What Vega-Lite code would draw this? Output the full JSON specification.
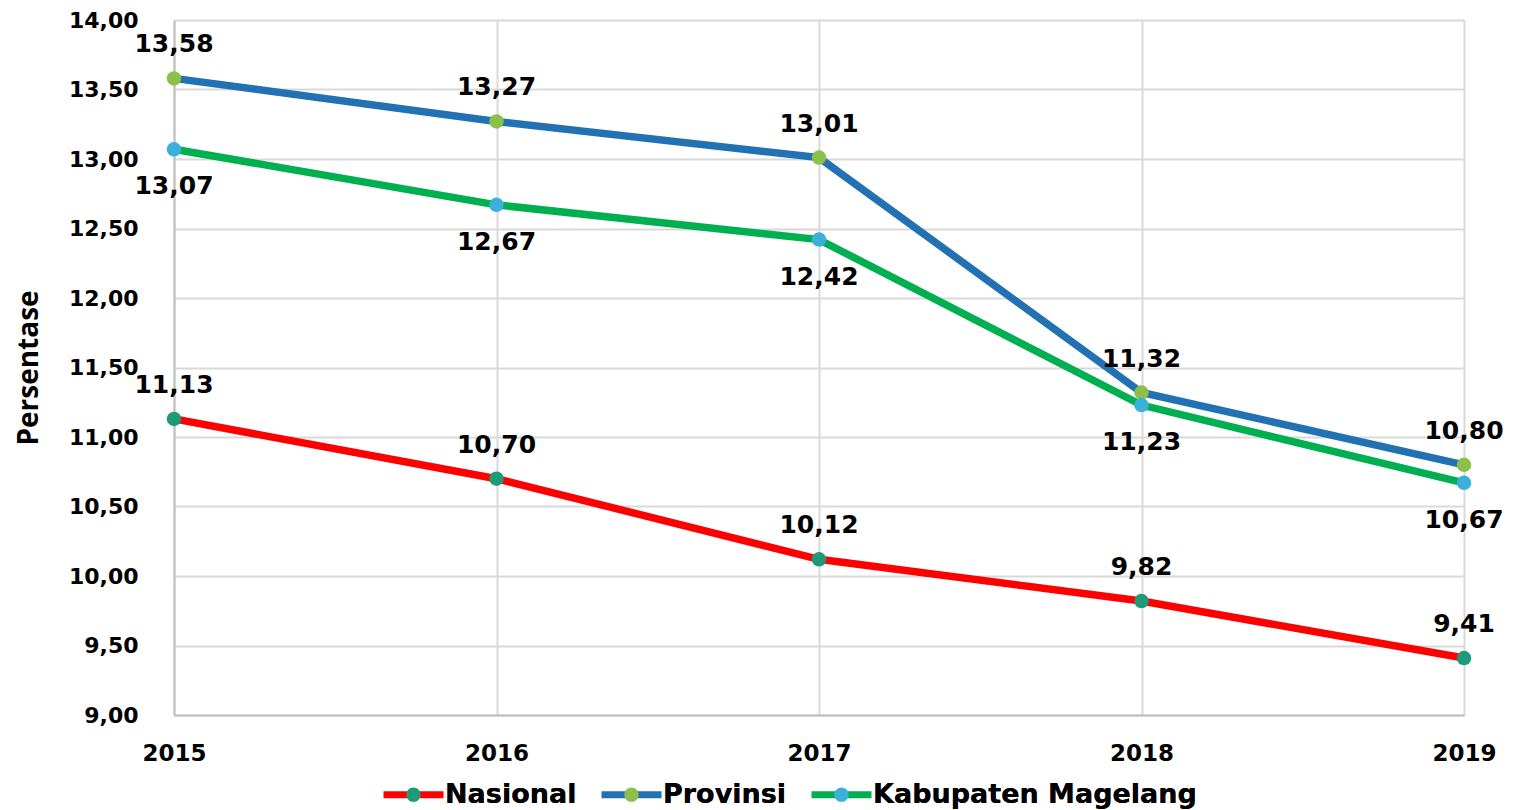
{
  "$schema": "https://vega.github.io/schema/vega-lite/v6.json",
  "autosize": {"type": "none"},
  "width": 1290,
  "height": 695,
  "padding": {"left": 174, "top": 20, "right": 67, "bottom": 95},
  "background": "white",
  "data": {
    "values": [
      {"year": 2015, "series": "Nasional", "value": 11.13},
      {"year": 2016, "series": "Nasional", "value": 10.70},
      {"year": 2017, "series": "Nasional", "value": 10.12},
      {"year": 2018, "series": "Nasional", "value": 9.82},
      {"year": 2019, "series": "Nasional", "value": 9.41},
      {"year": 2015, "series": "Provinsi", "value": 13.58},
      {"year": 2016, "series": "Provinsi", "value": 13.27},
      {"year": 2017, "series": "Provinsi", "value": 13.01},
      {"year": 2018, "series": "Provinsi", "value": 11.32},
      {"year": 2019, "series": "Provinsi", "value": 10.80},
      {"year": 2015, "series": "Kabupaten Magelang", "value": 13.07},
      {"year": 2016, "series": "Kabupaten Magelang", "value": 12.67},
      {"year": 2017, "series": "Kabupaten Magelang", "value": 12.42},
      {"year": 2018, "series": "Kabupaten Magelang", "value": 11.23},
      {"year": 2019, "series": "Kabupaten Magelang", "value": 10.67}
    ]
  },
  "transform": [
    {"calculate": "replace(format(datum.value, '.2f'), '.', ',')", "as": "label"}
  ],
  "encoding": {
    "x": {
      "field": "year", "type": "quantitative",
      "scale": {"domain": [2015, 2019], "nice": false, "zero": false},
      "axis": {
        "values": [2015, 2016, 2017, 2018, 2019], "format": "d", "title": null,
        "grid": true, "gridColor": "#D9D9D9", "gridWidth": 2,
        "domainColor": "#BFBFBF", "domainWidth": 2,
        "ticks": false, "tickSize": 0, "labelPadding": 27,
        "labelFont": "DejaVu Sans", "labelFontWeight": "bold", "labelFontSize": 23,
        "labelColor": "#000000", "labelFlush": false
      }
    },
    "y": {
      "field": "value", "type": "quantitative",
      "scale": {"domain": [9, 14], "nice": false, "zero": false},
      "axis": {
        "values": [9, 9.5, 10, 10.5, 11, 11.5, 12, 12.5, 13, 13.5, 14],
        "labelExpr": "replace(format(datum.value, '.2f'), '.', ',')",
        "title": "Persentase", "titleFont": "Open Sans", "titleFontWeight": "bold",
        "titleFontSize": 28, "titleColor": "#000000", "titlePadding": 25,
        "grid": true, "gridColor": "#D9D9D9", "gridWidth": 2,
        "domainColor": "#BFBFBF", "domainWidth": 2,
        "ticks": false, "tickSize": 0, "labelPadding": 36,
        "labelFont": "DejaVu Sans", "labelFontWeight": "bold", "labelFontSize": 22,
        "labelColor": "#000000", "labelFlush": false
      }
    }
  },
  "layer": [
    {
      "mark": {"type": "line", "strokeWidth": 7.5},
      "encoding": {
        "stroke": {
          "field": "series", "type": "nominal",
          "scale": {"domain": ["Nasional", "Provinsi", "Kabupaten Magelang"], "range": ["#FF0000", "#2271B3", "#00B050"]},
          "legend": {
            "title": null, "orient": "none", "direction": "horizontal",
            "legendX": 206, "legendY": 741, "padding": 0,
            "symbolType": "stroke", "symbolSize": 3600, "symbolStrokeWidth": 7,
            "symbolFillColor": "transparent",
            "labelFont": "DejaVu Sans", "labelFontWeight": "bold", "labelFontSize": 27,
            "labelColor": "#000000", "labelOffset": -2, "columnPadding": 10,
            "labelLimit": 1000
          }
        }
      }
    },
    {
      "mark": {"type": "point", "filled": true, "size": 210, "opacity": 1, "shape": "circle"},
      "encoding": {
        "fill": {
          "field": "series", "type": "nominal",
          "sort": ["Nasional", "Provinsi", "Kabupaten Magelang"],
          "scale": {"range": ["#1F9A78", "#8DC04A", "#3BB0D8"]},
          "legend": {
            "title": null, "orient": "none", "direction": "horizontal",
            "legendX": 206, "legendY": 741, "padding": 0,
            "symbolType": "M-1,0L1,0M-0.24,0A0.24,0.24,0,1,0,0.24,0A0.24,0.24,0,1,0,-0.24,0Z",
            "symbolSize": 3600, "symbolStrokeWidth": 7, "symbolStrokeColor": "transparent", "symbolOpacity": 1,
            "labelFont": "DejaVu Sans", "labelFontWeight": "bold", "labelFontSize": 27,
            "labelColor": "#000000", "labelOffset": -2, "columnPadding": 10,
            "labelLimit": 1000
          }
        }
      }
    },
    {
      "transform": [{"filter": "datum.series != 'Kabupaten Magelang'"}],
      "mark": {"type": "text", "dy": -34, "font": "DejaVu Sans", "fontWeight": "bold", "fontSize": 25, "color": "#000000", "baseline": "middle"},
      "encoding": {"text": {"field": "label"}}
    },
    {
      "transform": [{"filter": "datum.series == 'Kabupaten Magelang'"}],
      "mark": {"type": "text", "dy": 37, "font": "DejaVu Sans", "fontWeight": "bold", "fontSize": 25, "color": "#000000", "baseline": "middle"},
      "encoding": {"text": {"field": "label"}}
    }
  ],
  "config": {"view": {"stroke": null}}
}
